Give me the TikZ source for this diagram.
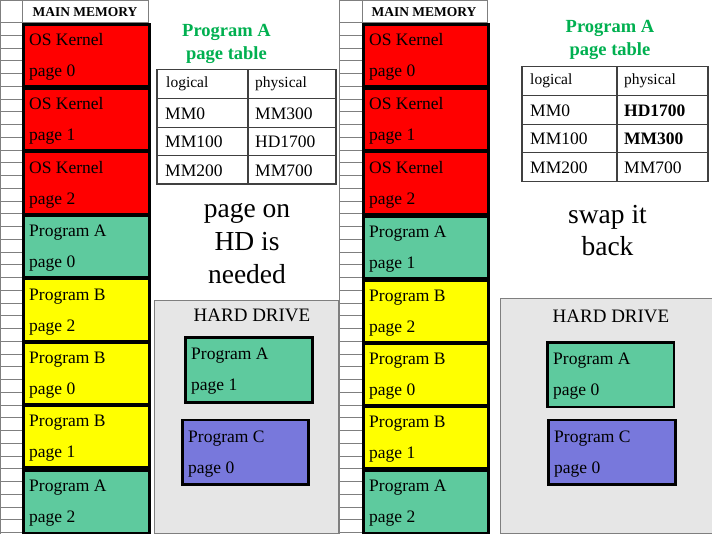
\documentclass[tikz,border=0pt]{standalone}
\usepackage{fontspec}
\setmainfont{Liberation Serif}
\definecolor{osred}{HTML}{FF0000}
\definecolor{pgreen}{HTML}{5ECA9E}
\definecolor{pyellow}{HTML}{FFFF00}
\definecolor{ppurple}{HTML}{7878DC}
\definecolor{titlegreen}{HTML}{00B050}
\definecolor{hdgray}{HTML}{E6E6E6}
\definecolor{gridgray}{HTML}{7F7F7F}
\definecolor{tabline}{HTML}{404040}
\newcommand\pageblock[8]{% name, x, y, w, h, fill, line1, line2
  \node[blk,fill=#6,minimum width=#4pt,minimum height=#5pt] (#1) at (#2,#3) {};
  \node[txt] (#1-a) at ([shift={(7pt,10pt)}]#1.west) {#7};
  \node[txt] (#1-b) at ([shift={(7pt,-21pt)}]#1.west) {#8};
}
\newcommand\memgrid[3]{% x0, x1, x2
  \foreach \k in {1,...,40} \draw[grid] (#1,22.5+12.75*\k) -- (#2,22.5+12.75*\k);
  \draw[grid] (#1,0.5) -- (#3,0.5);
  \draw[grid] (#1,22.5) -- (#3,22.5);
  \draw[grid] (#1,0) -- (#1,534);
  \draw[grid] (#2,0) -- (#2,534);
  \draw[grid] (#3,0) -- (#3,534);
}
\begin{document}
\begin{tikzpicture}[x=1pt,y=-1pt,
  grid/.style={draw=gridgray,line width=0.8pt},
  blk/.style={draw=black,line width=2.6pt,rectangle,inner sep=0pt,anchor=north west},
  txt/.style={font=\fontsize{17.5}{20}\selectfont,inner sep=0pt,anchor=base west},
  hdr/.style={font=\bfseries\fontsize{13.5}{15}\selectfont,inner sep=0pt,anchor=base},
  ttl/.style={font=\bfseries\fontsize{18.5}{23}\selectfont,text=titlegreen,inner sep=0pt,anchor=base},
  tab/.style={draw=tabline,line width=1.2pt},
  thd/.style={font=\fontsize{15.5}{18}\selectfont,inner sep=0pt,anchor=base west},
  tbd/.style={font=\fontsize{17.5}{20}\selectfont,inner sep=0pt,anchor=base west},
  big/.style={font=\fontsize{27.5}{33}\selectfont,inner sep=0pt,anchor=base},
  hdbox/.style={fill=hdgray,draw=gridgray,line width=1pt},
  hdtxt/.style={font=\fontsize{19}{22}\selectfont,inner sep=0pt,anchor=base}]
\useasboundingbox (0,0) rectangle (712,534);
\fill[white] (0,0) rectangle (712,534);

% ---------------- hard drive backgrounds
\draw[hdbox] (154,300.5) rectangle (338,533.5);
\draw[hdbox] (500.5,298.5) rectangle (713,533.5);

% ---------------- left memory
\memgrid{0.4}{22}{148.5}
\node[hdr] (lmm) at (85,16.7) {MAIN MEMORY};
\pageblock{L1}{22}{23.5}{126}{62}{osred}{OS Kernel}{page 0}
\pageblock{L2}{22}{87.2}{126}{62}{osred}{OS Kernel}{page 1}
\pageblock{L3}{22}{150.9}{126}{62}{osred}{OS Kernel}{page 2}
\pageblock{L4}{22}{214.6}{126}{61}{pgreen}{Program A}{page 0}
\pageblock{L5}{22}{277.8}{126}{62}{pyellow}{Program B}{page 2}
\pageblock{L6}{22}{341.5}{126}{61}{pyellow}{Program B}{page 0}
\pageblock{L7}{22}{404.5}{126}{61.5}{pyellow}{Program B}{page 1}
\pageblock{L8}{22}{469.2}{126}{62.5}{pgreen}{Program A}{page 2}

% ---------------- right memory
\memgrid{339.2}{362}{487}
\node[hdr] (rmm) at (424,16.7) {MAIN MEMORY};
\pageblock{R1}{362}{23.5}{125}{62}{osred}{OS Kernel}{page 0}
\pageblock{R2}{362}{87.2}{125}{62}{osred}{OS Kernel}{page 1}
\pageblock{R3}{362}{150.9}{125}{62}{osred}{OS Kernel}{page 2}
\pageblock{R4}{362}{215.5}{125}{62}{pgreen}{Program A}{page 1}
\pageblock{R5}{362}{279.3}{125}{62}{pyellow}{Program B}{page 2}
\pageblock{R6}{362}{342.5}{125}{61.5}{pyellow}{Program B}{page 0}
\pageblock{R7}{362}{405.5}{125}{61.5}{pyellow}{Program B}{page 1}
\pageblock{R8}{362}{469.2}{125}{62.5}{pgreen}{Program A}{page 2}

% ---------------- left page table
\node[ttl] (lt1) at (226.5,37) {Program A};
\node[ttl] (lt2) at (226.5,60) {page table};
\draw[tab] (157,69.3) rectangle (336,184);
\draw[tab] (248,69.3) -- (248,184);
\foreach \yy in {98.7,127.3,155.7} \draw[tab] (157,\yy) -- (336,\yy);
\node[thd] (la0) at (166,87.3) {logical};
\node[thd] (lb0) at (255,87.3) {physical};
\node[tbd] (la1) at (165,119.3) {MM0};
\node[tbd] (lb1) at (255,119.3) {MM300};
\node[tbd] (la2) at (165,147.8) {MM100};
\node[tbd] (lb2) at (255,147.8) {HD1700};
\node[tbd] (la3) at (165,176.3) {MM200};
\node[tbd] (lb3) at (255,176.3) {MM700};

\node[big] (lq1) at (247,217.7) {page on};
\node[big] (lq2) at (247,251) {HD is};
\node[big] (lq3) at (247,284) {needed};

% ---------------- right page table
\node[ttl] (rt1) at (610,32.3) {Program A};
\node[ttl] (rt2) at (610,55.3) {page table};
\draw[tab] (522,66.7) rectangle (708,181.3);
\draw[tab] (617,66.7) -- (617,181.3);
\foreach \yy in {95.7,124.3,152.7} \draw[tab] (522,\yy) -- (708,\yy);
\node[thd] (ra0) at (530,84.7) {logical};
\node[thd] (rb0) at (624,84.7) {physical};
\node[tbd] (ra1) at (530,116.3) {MM0};
\node[tbd] (rb1) at (624,116.3) {\bfseries HD1700};
\node[tbd] (ra2) at (530,145) {MM100};
\node[tbd] (rb2) at (624,145) {\bfseries MM300};
\node[tbd] (ra3) at (530,173.5) {MM200};
\node[tbd] (rb3) at (624,173.5) {MM700};

\node[big] (rq1) at (607.5,223.3) {swap it};
\node[big] (rq2) at (607.5,255.7) {back};

% ---------------- hard drive contents
\node[hdtxt] (lhd) at (252,321.5) {HARD DRIVE};
\pageblock{LH1}{184}{336}{127}{65}{pgreen}{Program A}{page 1}
\pageblock{LH2}{181}{418.5}{126}{64.5}{ppurple}{Program C}{page 0}

\node[hdtxt] (rhd) at (611,322.3) {HARD DRIVE};
\pageblock{RH1}{546}{341.3}{126.5}{64.5}{pgreen}{Program A}{page 0}
\pageblock{RH2}{547}{418.5}{127}{64.5}{ppurple}{Program C}{page 0}
\end{tikzpicture}
\end{document}
